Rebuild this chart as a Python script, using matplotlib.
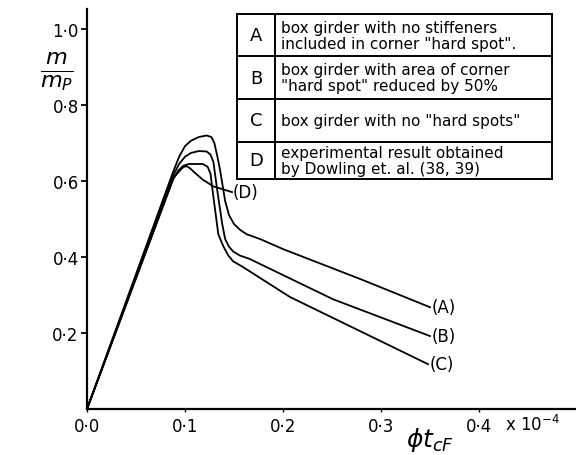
import matplotlib
matplotlib.use("Agg")
import matplotlib.pyplot as plt
from matplotlib.lines import Line2D

# curve data: rotation (x 10^-4) vs m/mp
a_x = [0.0, 0.088, 0.094, 0.100, 0.106, 0.114, 0.122, 0.127, 0.130, 0.133, 0.136, 0.141, 0.145, 0.150, 0.156, 0.163, 0.177, 0.200, 0.279, 0.350]
a_y = [0.0, 0.625, 0.664, 0.692, 0.706, 0.716, 0.720, 0.716, 0.700, 0.665, 0.626, 0.547, 0.510, 0.487, 0.472, 0.460, 0.447, 0.421, 0.342, 0.268]

b_x = [0.0, 0.088, 0.094, 0.100, 0.106, 0.114, 0.122, 0.126, 0.129, 0.133, 0.138, 0.141, 0.145, 0.149, 0.156, 0.166, 0.251, 0.350]
b_y = [0.0, 0.615, 0.645, 0.664, 0.674, 0.679, 0.678, 0.670, 0.650, 0.574, 0.487, 0.447, 0.427, 0.415, 0.404, 0.395, 0.289, 0.192]

c_x = [0.0, 0.088, 0.093, 0.098, 0.104, 0.118, 0.123, 0.126, 0.129, 0.134, 0.139, 0.144, 0.149, 0.159, 0.207, 0.348]
c_y = [0.0, 0.605, 0.627, 0.640, 0.645, 0.645, 0.638, 0.620, 0.558, 0.460, 0.429, 0.405, 0.389, 0.374, 0.295, 0.118]

d_x = [0.0, 0.088, 0.097, 0.101, 0.105, 0.110, 0.118, 0.129, 0.148]
d_y = [0.0, 0.608, 0.634, 0.640, 0.634, 0.622, 0.604, 0.586, 0.571]

x_ticks = [0.0, 0.1, 0.2, 0.3, 0.4]
x_ticklabels = ["0\u00b70", "0\u00b71", "0\u00b72", "0\u00b73", "0\u00b74"]
y_ticks = [0.2, 0.4, 0.6, 0.8, 1.0]
y_ticklabels = ["0\u00b72", "0\u00b74", "0\u00b76", "0\u00b78", "1\u00b70"]

key_letters = ["A", "B", "C", "D"]
key_text = [
    ["box girder with no stiffeners", "included in corner \"hard spot\"."],
    ["box girder with area of corner", "\"hard spot\" reduced by 50%"],
    ["box girder with no \"hard spots\""],
    ["experimental result obtained", "by Dowling et. al. (38, 39)"],
]

W, H = 576, 456
fig = plt.figure(figsize=(W / 100, H / 100), dpi=100)
ax = fig.add_axes([87 / W, 1 - 410 / H, (W - 87) / W, 400 / H])
ax.set_xlim(0, 0.499)
ax.set_ylim(0, 1.053)

for xs, ys in [(a_x, a_y), (b_x, b_y), (c_x, c_y), (d_x, d_y)]:
    ax.plot(xs, ys, color="black", lw=1.3, solid_joinstyle="round")

ax.text(0.352, a_y[-1], "(A)", fontsize=12, ha="left", va="center")
ax.text(0.352, b_y[-1], "(B)", fontsize=12, ha="left", va="center")
ax.text(0.350, c_y[-1], "(C)", fontsize=12, ha="left", va="center")
ax.text(0.149, d_y[-1], "(D)", fontsize=12, ha="left", va="center")

for side in ["top", "right"]:
    ax.spines[side].set_visible(False)
for side in ["left", "bottom"]:
    ax.spines[side].set_linewidth(1.6)

ax.set_xticks(x_ticks)
ax.set_xticklabels(x_ticklabels, fontsize=12)
ax.set_yticks(y_ticks)
ax.set_yticklabels(y_ticklabels, fontsize=12)
ax.tick_params(axis="y", length=4, width=1.3, pad=2)
ax.tick_params(axis="x", length=2, width=1.0, pad=4)

# axis labels
fig.text(505 / W, 1 - 425 / H, r"x $10^{-4}$", fontsize=12, ha="left", va="center")
fig.text(430 / W, 1 - 440 / H, r"$\phi t_{cF}$", fontsize=18, ha="center", va="center")
fig.text(57 / W, 1 - 72 / H, r"$\frac{m}{m_P}$", fontsize=23, ha="center", va="center")


def px(x, y):
    return x / W, 1 - y / H


def seg(x0, y0, x1, y1, lw=1.4):
    (fx0, fy0), (fx1, fy1) = px(x0, y0), px(x1, y1)
    fig.add_artist(Line2D([fx0, fx1], [fy0, fy1], color="black", lw=lw,
                          transform=fig.transFigure))


# key table in the upper right
left, mid, right = 237, 275, 552
rows = [15, 57, 100, 143, 180]
seg(left, rows[0], right, rows[0])
seg(left, rows[-1], right, rows[-1])
seg(left, rows[0], left, rows[-1])
seg(right, rows[0], right, rows[-1])
seg(mid, rows[0], mid, rows[-1])
for r in rows[1:-1]:
    seg(left, r, right, r)

for i, letter in enumerate(key_letters):
    top, bot = rows[i], rows[i + 1]
    cy = (top + bot) / 2
    fig.text(*px((left + mid) / 2, cy), letter, fontsize=13, ha="center", va="center")
    lines = key_text[i]
    if len(lines) == 1:
        fig.text(*px(mid + 6, cy), lines[0], fontsize=11, ha="left", va="center")
    else:
        fig.text(*px(mid + 6, cy - 8), lines[0], fontsize=11, ha="left", va="center")
        fig.text(*px(mid + 6, cy + 8), lines[1], fontsize=11, ha="left", va="center")

fig.savefig("out.png", dpi=100)
